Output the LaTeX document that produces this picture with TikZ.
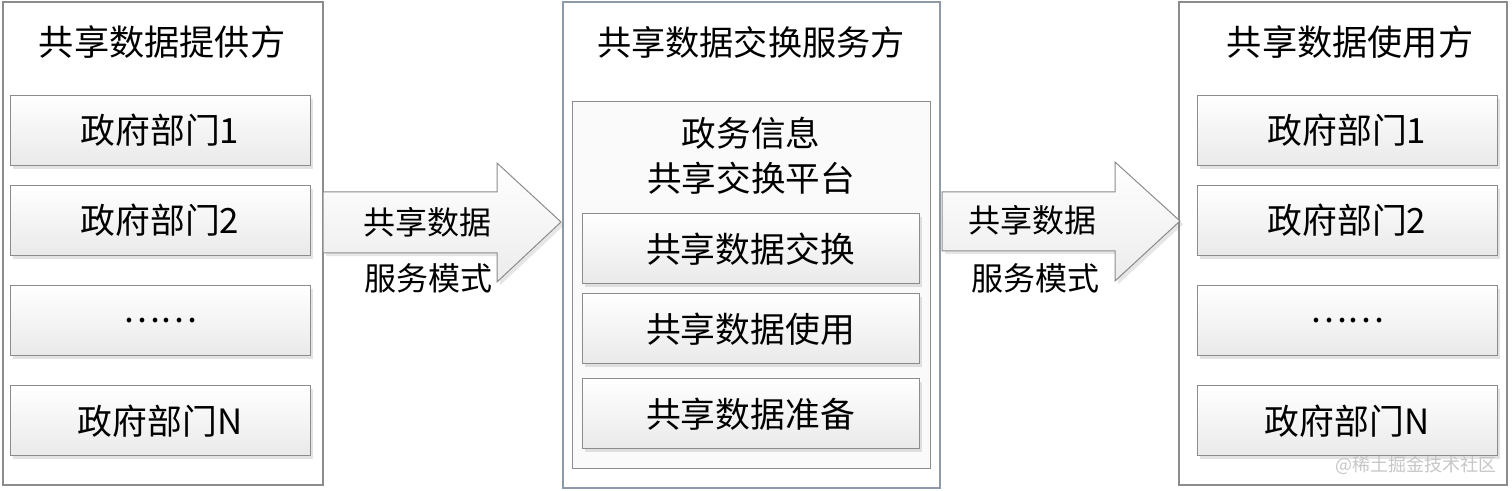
\documentclass[tikz,border=0pt]{standalone}
\usepackage{fontspec}
\setmainfont{Carlito}
\newfontfamily\cjk{Noto Sans CJK SC}
\usetikzlibrary{shadows}
\definecolor{edgegray}{HTML}{8C8C8C}
\definecolor{midedge}{HTML}{8E9AA8}
\begin{document}
\begin{tikzpicture}[x=0.5pt,y=-0.5pt,
  panel/.style={draw=edgegray,line width=0.6pt},
  title/.style={font=\cjk\fontsize{17.6}{19}\selectfont},
  dept/.style={draw=edgegray,line width=0.5pt,top color=white,bottom color=gray!17,
    drop shadow={opacity=0.22,shadow xshift=1.6pt,shadow yshift=-1.6pt},
    minimum width=150pt,minimum height=35pt,inner sep=0pt,
    font=\cjk\fontsize{17.4}{19}\selectfont},
  subbox/.style={dept,minimum width=168.5pt},
  bigarrow/.style={draw=edgegray,line width=0.5pt,top color=white,bottom color=gray!15,
    drop shadow={opacity=0.2,shadow xshift=1.6pt,shadow yshift=-1.6pt}},
  arrowtext/.style={font=\cjk\fontsize{16}{18}\selectfont}]
\useasboundingbox (0,0) rectangle (1512,491);

% left panel
\draw[panel] (3,2) rectangle (323,485);
\node[title] (ltitle) at (162,42) {共享数据提供方};
\node[dept] (l1) at (160,130.5) {政府部门1};
\node[dept] (l2) at (160,220.5) {政府部门2};
\node[dept] (l3) at (160,321) {……};
\node[dept] (l4) at (160,421) {政府部门N};

% middle panel
\draw[panel,draw=midedge] (563,2) rectangle (940,488);
\node[title,font=\cjk\fontsize{17.1}{19}\selectfont] (mtitle) at (751,42) {共享数据交换服务方};
\draw[draw=edgegray,fill=gray!4,line width=0.5pt] (572,102) rectangle (930,469);
\node[title,font=\cjk\fontsize{17.3}{19}\selectfont] (plat1) at (751,133) {政务信息};
\node[title,font=\cjk\fontsize{17.3}{19}\selectfont] (plat2) at (751,178) {共享交换平台};
\node[subbox] (m1) at (750.5,249) {共享数据交换};
\node[subbox] (m2) at (750.5,329) {共享数据使用};
\node[subbox] (m3) at (750.5,414) {共享数据准备};

% right panel
\draw[panel] (1179,2) rectangle (1507,485);
\node[title] (rtitle) at (1350,42) {共享数据使用方};
\node[dept] (r1) at (1347,130.5) {政府部门1};
\node[dept] (r2) at (1347,220.5) {政府部门2};
\node[dept] (r3) at (1347,321) {……};
\node[dept] (r4) at (1347,421) {政府部门N};

% arrows
\draw[bigarrow] (323,192) -- (497,192) -- (497,163) -- (561,222)
  -- (497,282) -- (497,253) -- (323,253) -- cycle;
\node[arrowtext] (a1top) at (427,222) {共享数据};
\node[arrowtext] (a1bot) at (428,278) {服务模式};

\draw[bigarrow] (942,192) -- (1115,192) -- (1115,162) -- (1180,221)
  -- (1115,281) -- (1115,251) -- (942,251) -- cycle;
\node[arrowtext] (a2top) at (1032,220) {共享数据};
\node[arrowtext] (a2bot) at (1035,278) {服务模式};

\node[text=gray!45,font=\cjk\fontsize{9}{10}\selectfont] (mark) at (1416,465) {@稀土掘金技术社区};
\end{tikzpicture}
\end{document}
